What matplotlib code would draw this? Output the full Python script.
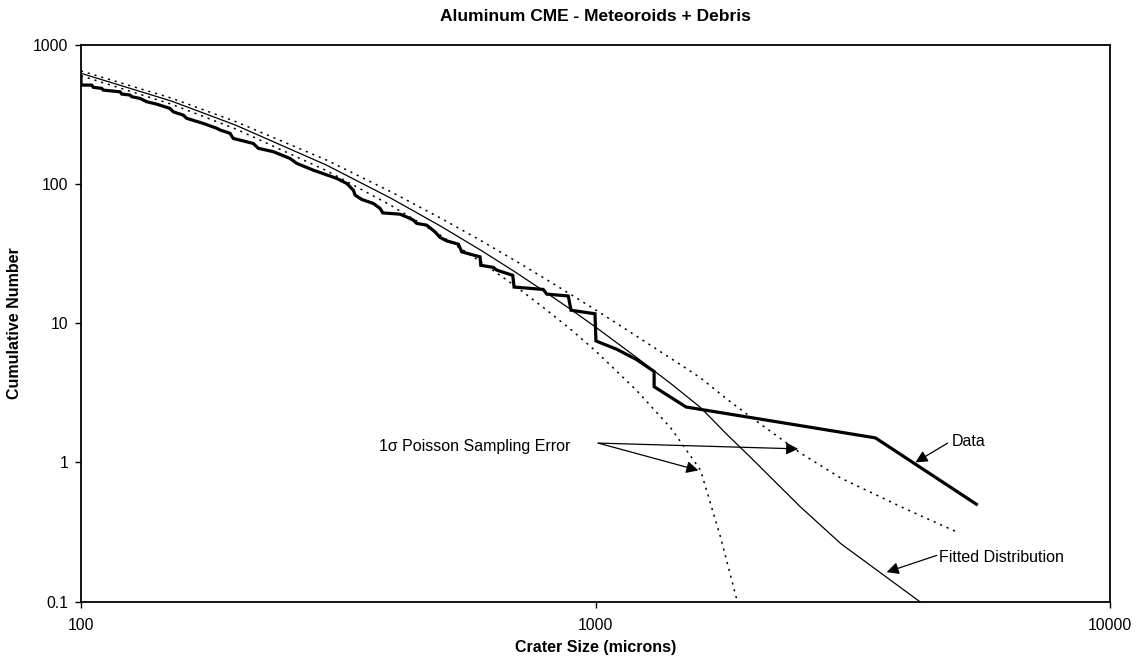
import matplotlib
matplotlib.use("Agg")
import matplotlib.pyplot as plt
from matplotlib.ticker import FixedLocator, FixedFormatter, NullLocator

plt.rcParams['font.family'] = ['Liberation Sans', 'DejaVu Sans']

# Measured crater data (cumulative)
data_size = [100, 100, 104.9, 105.7, 109.7, 110.5, 119.1, 120, 124.5, 125.5,
             130.2, 134.2, 140.3, 148.9, 151.1, 158.1, 160.5, 172.9, 183.6, 186.3,
             194.8, 197.7, 216.2, 221.1, 236.5, 254.8, 262.6, 282.8, 314, 328.6,
             338.3, 341, 351.3, 370, 381.3, 385.9, 416.9, 429.5, 442.5, 449.3,
             469.9, 487.6, 498.6, 513.8, 541.4, 547.1, 549.6, 596.5, 598.4, 632.9,
             642.7, 690.5, 694.6, 791.6, 803.7, 885.3, 896.2, 997.7, 1002, 1100,
             1200, 1300, 1300, 1500, 3500, 5500]
data_count = [589, 515, 515, 496, 488, 474, 461, 444, 437, 425,
              413, 391, 376, 350, 331, 313, 297, 273, 252, 245,
              232, 213, 196, 181, 171, 153, 141, 126, 110, 101,
              90.5, 83.4, 77.6, 72.6, 66.9, 62.1, 60.8, 58.1, 55.1, 52.2,
              50.7, 45.4, 41.4, 39.1, 37.0, 33.9, 32.6, 30.0, 26.1, 25.2,
              24.1, 22.1, 18.2, 17.5, 16.2, 15.7, 12.4, 11.7, 7.46, 6.5,
              5.5, 4.5, 3.5, 2.5, 1.5, 0.5]

# Fitted distribution
fit_size = [100, 150, 200, 300, 400, 500, 600, 700, 800, 900, 1000,
            1200, 1400, 1600, 1800, 2000, 2500, 3000, 4000, 5000]
fit_count = [626, 395, 265, 137, 79.3, 49.9, 33.3, 23.2, 16.7, 12.4, 9.4,
             5.7, 3.69, 2.48, 1.59, 1.09, 0.48, 0.26, 0.119, 0.065]

# 1-sigma Poisson sampling error bounds
upper_size = fit_size
upper_count = [651, 415, 281, 149, 88.2, 57.0, 39.1, 28.0, 20.8, 15.9, 12.5,
               8.1, 5.6, 4.05, 2.85, 2.13, 1.17, 0.77, 0.464, 0.32]
lower_size = [100, 150, 200, 300, 400, 500, 600, 700, 800, 900, 1000,
              1200, 1400, 1600, 1750, 1900]
lower_count = [601, 375, 249, 125, 70.4, 42.8, 27.5, 18.4, 12.6, 8.88, 6.33,
               3.31, 1.77, 0.88, 0.29, 0.09]

x_ticks = [100, 1000, 10000]
x_tick_labels = ['100', '1000', '10000']
y_ticks = [0.1, 1, 10, 100, 1000]
y_tick_labels = ['0.1', '1', '10', '100', '1000']

fig = plt.figure(figsize=(11.4, 6.64), dpi=100)
ax = fig.add_axes([81/1140, 1 - 601.5/664, (1110-81)/1140, (601.5-45)/664])

ax.plot(upper_size, upper_count, color='black', lw=1.1, linestyle=(0, (1.4, 3.2)))
ax.plot(lower_size, lower_count, color='black', lw=1.1, linestyle=(0, (1.4, 3.2)))
ax.plot(fit_size, fit_count, color='black', lw=0.9)
ax.plot(data_size, data_count, color='black', lw=2.3, solid_joinstyle='miter')

ax.set_xscale('log')
ax.set_yscale('log')
ax.set_xlim(100, 10000)
ax.set_ylim(0.1, 1000)

ax.xaxis.set_major_locator(FixedLocator(x_ticks))
ax.xaxis.set_major_formatter(FixedFormatter(x_tick_labels))
ax.xaxis.set_minor_locator(NullLocator())
ax.yaxis.set_major_locator(FixedLocator(y_ticks))
ax.yaxis.set_major_formatter(FixedFormatter(y_tick_labels))
ax.yaxis.set_minor_locator(NullLocator())

ax.tick_params(axis='both', which='major', direction='out', length=4, width=1,
               labelsize=11.3, colors='black')
ax.tick_params(axis='y', pad=5)
ax.tick_params(axis='x', pad=8)
for s in ax.spines.values():
    s.set_linewidth(1.3)
    s.set_color('black')

ax.set_title('Aluminum CME - Meteoroids + Debris', fontsize=12.5, fontweight='bold', pad=17)
ax.set_xlabel('Crater Size (microns)', fontsize=11.5, fontweight='bold', labelpad=5)
ax.set_ylabel('Cumulative Number', fontsize=11.5, fontweight='bold', labelpad=8)

arrow_kw = dict(arrowstyle='-|>', color='black', lw=0.9, mutation_scale=18,
                shrinkA=0, shrinkB=0)

ax.text(895, 1.3, '1σ Poisson Sampling Error', ha='right', va='center', fontsize=11.5)
ax.annotate('', xy=(2477, 1.25), xytext=(1012, 1.376), arrowprops=arrow_kw)
ax.annotate('', xy=(1585, 0.876), xytext=(1012, 1.376), arrowprops=arrow_kw)

ax.text(4920, 1.42, 'Data', ha='left', va='center', fontsize=11.5)
ax.annotate('', xy=(4186, 1.0), xytext=(4836, 1.376), arrowprops=arrow_kw)

ax.text(4660, 0.208, 'Fitted Distribution', ha='left', va='center', fontsize=11.5)
ax.annotate('', xy=(3680, 0.1626), xytext=(4604, 0.2144), arrowprops=arrow_kw)

fig.savefig('out.png', dpi=100)
